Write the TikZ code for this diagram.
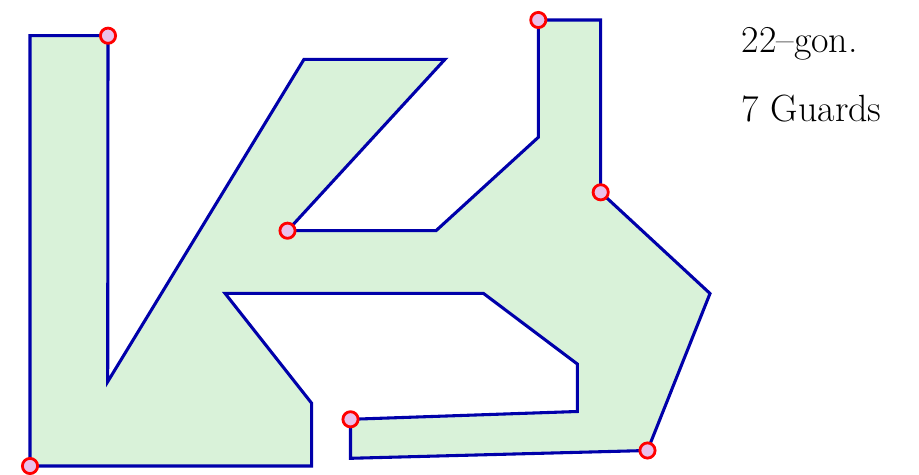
\documentclass[tikz,border=0pt]{standalone}
\usepackage{xcolor}
\usepackage{tikz}

\definecolor{polyfill}{RGB}{217,242,217}
\definecolor{polyedge}{RGB}{0,0,170}
\definecolor{guardfill}{RGB}{234,192,234}

\begin{document}
\begin{tikzpicture}[x=0.02cm, y=-0.02cm, line join=miter,
    edge/.style={line width=1.75pt, polyedge, fill=polyfill},
    guard/.style={line width=1.6pt, red, fill=guardfill},
    caption/.style={anchor=base west, inner sep=0pt, font=\fontsize{21.6}{26}\selectfont}]
    \useasboundingbox (0,0) rectangle (919,475);

    % --- Vertices of the 22-gon (counter-clockwise from bottom left) ---
    \coordinate (v1)  at (30, 466);
    \coordinate (v2)  at (30, 35.7);
    \coordinate (v3)  at (108, 35.7);
    \coordinate (v4)  at (107.7, 381.7);
    \coordinate (v5)  at (304, 59.3);
    \coordinate (v6)  at (445, 59.3);
    \coordinate (v7)  at (287.5, 230.7);
    \coordinate (v8)  at (436, 230.7);
    \coordinate (v9)  at (538.3, 137.3);
    \coordinate (v10) at (538.3, 20);
    \coordinate (v11) at (600.7, 20);
    \coordinate (v12) at (600.7, 192.3);
    \coordinate (v13) at (710, 293.5);
    \coordinate (v14) at (647.5, 450.5);
    \coordinate (v15) at (350.5, 458.3);
    \coordinate (v16) at (350.5, 419.3);
    \coordinate (v17) at (577.3, 411.5);
    \coordinate (v18) at (577.3, 364);
    \coordinate (v19) at (483.3, 293.3);
    \coordinate (v20) at (225, 293.3);
    \coordinate (v21) at (311.7, 403.3);
    \coordinate (v22) at (311.7, 466);

    % --- Polygon ---
    \draw[edge] (v1) -- (v2) -- (v3) -- (v4) -- (v5) -- (v6) -- (v7) -- (v8)
        -- (v9) -- (v10) -- (v11) -- (v12) -- (v13) -- (v14) -- (v15) -- (v16)
        -- (v17) -- (v18) -- (v19) -- (v20) -- (v21) -- (v22) -- cycle;

    % --- Guards ---
    \foreach \g in {v1, v3, v7, v10, v12, v14, v16}
        \draw[guard] (\g) circle (7.6);

    % --- Caption ---
    \node[caption] (gon) at (741.5, 53) {22--gon.};
    \node[caption] (guards) at (741.5, 122) {7 Guards};

\end{tikzpicture}
\end{document}
